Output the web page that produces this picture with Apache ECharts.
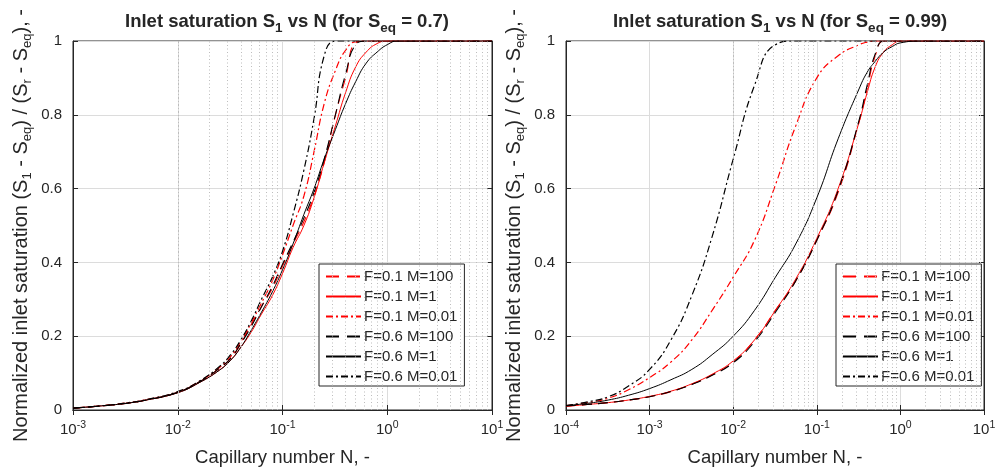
<!DOCTYPE html>
<html><head><meta charset="utf-8">
<script src="https://cdn.jsdelivr.net/npm/echarts@6/dist/echarts.min.js"></script>
<style>html,body{margin:0;padding:0;background:#fff}#c{width:996px;height:469px}</style>
</head><body><div id="c"></div><script>
// ---------- data ----------
const seriesNames = ['F=0.1 M=100', 'F=0.1 M=1', 'F=0.1 M=0.01', 'F=0.6 M=100', 'F=0.6 M=1', 'F=0.6 M=0.01'];

// Left panel (S_eq = 0.7): capillary number N
const nLeft = [0.001, 0.002, 0.0032, 0.005, 0.01, 0.016, 0.025, 0.032, 0.04, 0.05, 0.063, 0.08, 0.1, 0.126, 0.16, 0.2, 0.25, 0.32, 0.4, 0.5, 0.63, 0.8, 1, 1.26, 1.6, 10];
const leftF01M100 = [0.005,0.012,0.018,0.027,0.048,0.076,0.113,0.14,0.18,0.23,0.28,0.33,0.39,0.45,0.51,0.58,0.67,0.80,0.90,0.995,1,1,1,1,1,1];
const leftF01M1   = [0.005,0.012,0.018,0.027,0.047,0.074,0.108,0.135,0.17,0.21,0.26,0.31,0.37,0.44,0.50,0.575,0.67,0.77,0.86,0.93,0.97,0.993,1,1,1,1];
const leftF01M001 = [0.005,0.012,0.019,0.028,0.049,0.077,0.115,0.145,0.185,0.235,0.29,0.35,0.42,0.50,0.58,0.70,0.83,0.92,0.975,0.998,1,1,1,1,1,1];
const leftF06M100 = [0.005,0.012,0.018,0.027,0.048,0.076,0.113,0.14,0.18,0.225,0.28,0.335,0.395,0.455,0.52,0.59,0.68,0.80,0.91,0.99,1,1,1,1,1,1];
const leftF06M1   = [0.005,0.012,0.018,0.027,0.047,0.074,0.108,0.135,0.17,0.215,0.265,0.32,0.38,0.45,0.53,0.60,0.68,0.76,0.83,0.89,0.94,0.97,0.99,1,1,1];
const leftF06M001 = [0.005,0.012,0.019,0.028,0.05,0.078,0.118,0.15,0.19,0.24,0.30,0.36,0.43,0.53,0.65,0.79,0.96,1,1,1,1,1,1,1,1,1];

// Right panel (S_eq = 0.99)
const nRight = [0.0001, 0.00018, 0.00032, 0.00056, 0.001, 0.0018, 0.0032, 0.0056, 0.01, 0.018, 0.032, 0.056, 0.1, 0.18, 0.32, 0.4, 0.5, 0.63, 0.8, 1, 1.8, 10];
const rightF01M100 = [0.01,0.015,0.02,0.027,0.036,0.05,0.07,0.095,0.13,0.19,0.27,0.35,0.46,0.59,0.78,0.87,0.96,1,1,1,1,1];
const rightF01M1   = [0.01,0.015,0.02,0.027,0.037,0.051,0.071,0.097,0.133,0.19,0.27,0.355,0.465,0.6,0.78,0.86,0.93,0.97,0.99,1,1,1];
const rightF01M001 = [0.012,0.02,0.032,0.055,0.088,0.13,0.19,0.27,0.36,0.46,0.61,0.77,0.9,0.96,0.99,0.997,1,1,1,1,1,1];
const rightF06M100 = [0.011,0.015,0.02,0.027,0.036,0.05,0.069,0.094,0.128,0.185,0.265,0.35,0.46,0.595,0.785,0.88,0.965,1,1,1,1,1];
const rightF06M1   = [0.012,0.018,0.027,0.04,0.058,0.082,0.11,0.15,0.20,0.27,0.36,0.45,0.575,0.735,0.87,0.915,0.945,0.97,0.985,0.995,1,1];
const rightF06M001 = [0.012,0.022,0.036,0.065,0.11,0.19,0.31,0.47,0.68,0.88,0.99,1,1,1,1,1,1,1,1,1,1,1];

const leftTitle  = '{t|Inlet saturation S}{ts|1}{t| vs N (for S}{ts|eq}{t| = 0.7)}';
const rightTitle = '{t|Inlet saturation S}{ts|1}{t| vs N (for S}{ts|eq}{t| = 0.99)}';
const xName = 'Capillary number N, -';
const yName = '{a|Normalized inlet saturation (S}{s|1}{a| - S}{s|eq}{a|) / (S}{s|r}{a| - S}{s|eq}{a|), -}';

// ---------- styles ----------
const FONT = 'Liberation Sans, Arial, Helvetica, sans-serif';
const TXT = '#262626';
const styles = [
  {color: '#ff0000', type: [10, 6], width: 1.1},
  {color: '#ff0000', type: 'solid', width: 1},
  {color: '#ff0000', type: [7, 3, 2, 3], width: 1.2},
  {color: '#000000', type: [10, 6], width: 1.1},
  {color: '#000000', type: 'solid', width: 1},
  {color: '#000000', type: [7, 3, 2, 3], width: 1.2}
];
const legendDash = [[13, 8], 'solid', [7, 3, 2, 3], [13, 8], 'solid', [7, 3, 2, 3]];
const leftY = [leftF01M100, leftF01M1, leftF01M001, leftF06M100, leftF06M1, leftF06M001];
const rightY = [rightF01M100, rightF01M1, rightF01M001, rightF06M100, rightF06M1, rightF06M001];

function minorValues(d0, d1) {
  const out = [];
  for (let d = d0; d < d1; d++) for (let k = 2; k <= 9; k++) out.push(+(k * Math.pow(10, d)).toPrecision(3));
  return out;
}

const supRich = {
  b: {fontSize: 15, color: TXT, fontFamily: FONT},
  p: {fontSize: 10.5, color: TXT, fontFamily: FONT, verticalAlign: 'top', padding: [0, 0, 9, 0]}
};
function logFmt(v) { return '{b|10}{p|' + Math.round(Math.log10(v)) + '}'; }

const nameRich = {
  a: {fontSize: 20, color: TXT, fontFamily: FONT},
  s: {fontSize: 13, color: TXT, fontFamily: FONT, verticalAlign: 'bottom', padding: [12, 0, 0, 0]}
};
const titleRich = {
  t: {fontSize: 18.5, fontWeight: 'bold', color: TXT, fontFamily: FONT},
  ts: {fontSize: 13.5, fontWeight: 'bold', color: TXT, fontFamily: FONT, verticalAlign: 'bottom', padding: [12, 0, 0, 0]}
};

const grids = [
  {left: 73, top: 41, width: 419, height: 369, show: true, borderColor: TXT, borderWidth: 1, backgroundColor: '#fff', containLabel: false, outerBoundsMode: 'none'},
  {left: 566, top: 41, width: 418, height: 369, show: true, borderColor: TXT, borderWidth: 1, backgroundColor: '#fff', containLabel: false, outerBoundsMode: 'none'}
];
const ranges = [[0.001, 10], [0.0001, 10]];

const xAxes = [], yAxes = [];
[0, 1].forEach(i => {
  xAxes.push({
    gridIndex: i, type: 'log', logBase: 10, min: ranges[i][0], max: ranges[i][1],
    name: xName, nameLocation: 'middle', nameGap: 38,
    nameTextStyle: {fontSize: 18.5, color: TXT, fontFamily: FONT},
    axisLine: {show: true, lineStyle: {color: TXT}},
    axisTick: {show: true, inside: true, length: 5, lineStyle: {color: TXT}},
    axisLabel: {formatter: logFmt, rich: supRich, margin: 10},
    splitLine: {show: true, lineStyle: {color: '#dcdcdc', width: 1}},
    minorTick: {show: false}
  });
});
[0, 1].forEach(i => {
  xAxes.push({
    gridIndex: i, type: 'log', logBase: 10, min: ranges[i][0], max: ranges[i][1], position: 'top',
    axisLine: {show: true, lineStyle: {color: TXT}},
    axisTick: {show: true, inside: true, length: 5, lineStyle: {color: TXT}},
    axisLabel: {show: false}, splitLine: {show: false}
  });
});
[0, 1].forEach(i => {
  yAxes.push({
    gridIndex: i, type: 'value', min: 0, max: 1, interval: 0.2,
    name: yName, nameLocation: 'middle', nameGap: 39,
    nameTextStyle: {rich: nameRich, fontSize: 20, color: TXT, fontFamily: FONT},
    axisLine: {show: true, lineStyle: {color: TXT}},
    axisTick: {show: true, inside: true, length: 5, lineStyle: {color: TXT}},
    axisLabel: {fontSize: 15, color: TXT, fontFamily: FONT, margin: 11},
    splitLine: {show: true, lineStyle: {color: '#dcdcdc', width: 1}}
  });
});
[0, 1].forEach(i => {
  yAxes.push({
    gridIndex: i, type: 'value', min: 0, max: 1, interval: 0.2, position: 'right',
    axisLine: {show: true, lineStyle: {color: TXT}},
    axisTick: {show: true, inside: true, length: 5, lineStyle: {color: TXT}},
    axisLabel: {show: false}, splitLine: {show: false}
  });
});

const series = [];
[0, 1].forEach(i => {
  series.push({
    type: 'line', xAxisIndex: i, yAxisIndex: i, data: [], silent: true, z: 1,
    markLine: {
      silent: true, symbol: ['none', 'none'], animation: false, label: {show: false},
      lineStyle: {type: [1, 2.5], color: '#bdbdbd', width: 1},
      data: minorValues(i === 0 ? -3 : -4, 1).map(v => ({xAxis: v}))
    }
  });
});
[[nLeft, leftY], [nRight, rightY]].forEach(([xs, ys], i) => {
  ys.forEach((arr, j) => {
    series.push({
      name: seriesNames[j], type: 'line', xAxisIndex: i, yAxisIndex: i,
      data: xs.map((x, k) => [x, arr[k]]),
      symbol: 'none', showSymbol: false, smooth: 0.5, z: 3,
      lineStyle: styles[j], itemStyle: {color: styles[j].color}
    });
  });
});

const legendBase = {
  orient: 'vertical', top: 264,
  data: seriesNames.map((n, j) => ({name: n, lineStyle: {type: legendDash[j]}})),
  selectedMode: false,
  backgroundColor: '#fff', borderColor: TXT, borderWidth: 1, padding: [5, 7, 2, 6],
  itemWidth: 35, itemHeight: 14, itemGap: 5,
  itemStyle: {opacity: 0},
  textStyle: {fontSize: 15, color: TXT, fontFamily: FONT, padding: [0, 0, 0, -2]}
};

const option = {
  animation: false,
  backgroundColor: '#fff',
  title: [
    {text: leftTitle, left: 282, top: 4, textAlign: 'center', textStyle: {rich: titleRich}},
    {text: rightTitle, left: 775, top: 4, textAlign: 'center', textStyle: {rich: titleRich}}
  ],
  legend: [Object.assign({left: 319}, legendBase), Object.assign({left: 836}, legendBase)],
  grid: grids,
  xAxis: xAxes,
  yAxis: yAxes,
  series: series
};
const chart = echarts.init(document.getElementById('c'), null, {renderer: 'canvas'});
chart.setOption(option);
</script></body></html>
